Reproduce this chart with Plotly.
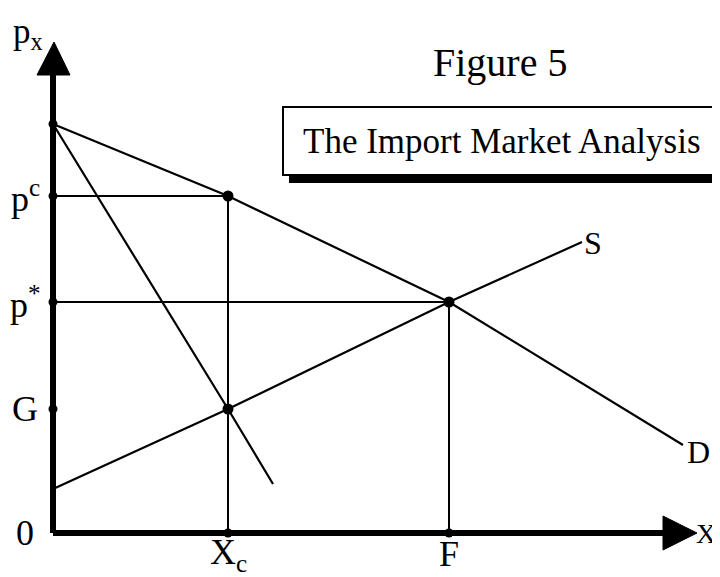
import plotly.graph_objects as go

# ---- data (model units: origin at axis corner) ----
demand_x = [0, 175, 396, 630]
demand_y = [409, 337, 231, 88]
mr_x = [0, 175, 220]
mr_y = [409, 124, 49]
supply_x = [0, 175, 396, 529]
supply_y = [44, 124, 231, 291]

Xc = 175
F = 396
p_c = 337
p_star = 231
G = 124
p_max = 409

axis_tick_labels = ["p<sup>c</sup>", "p<sup>*</sup>", "G", "0"]
x_tick_labels = ["X<sub>c</sub>", "F"]

FONT = "Liberation Serif"
BLACK = "#000000"

fig = go.Figure()

# guide lines
fig.add_trace(go.Scatter(x=[0, Xc, Xc], y=[p_c, p_c, 0], mode="lines",
                         line=dict(color=BLACK, width=2), hoverinfo="skip"))
fig.add_trace(go.Scatter(x=[0, F, F], y=[p_star, p_star, 0], mode="lines",
                         line=dict(color=BLACK, width=2), hoverinfo="skip"))
# curves
fig.add_trace(go.Scatter(x=demand_x, y=demand_y, mode="lines",
                         line=dict(color=BLACK, width=2.2), hoverinfo="skip"))
fig.add_trace(go.Scatter(x=mr_x, y=mr_y, mode="lines",
                         line=dict(color=BLACK, width=2.2), hoverinfo="skip"))
fig.add_trace(go.Scatter(x=supply_x, y=supply_y, mode="lines",
                         line=dict(color=BLACK, width=2.2), hoverinfo="skip"))

# axes as thick lines
fig.add_shape(type="line", x0=0, y0=0, x1=0, y1=465, line=dict(color=BLACK, width=6))
fig.add_shape(type="line", x0=0, y0=0, x1=616, y1=0, line=dict(color=BLACK, width=6))
# arrow heads
fig.add_shape(type="path", path="M -16 458 L 17 458 L 1 491 Z",
              fillcolor=BLACK, line=dict(color=BLACK, width=1))
fig.add_shape(type="path", path="M 610 17 L 610 -17 L 644 0 Z",
              fillcolor=BLACK, line=dict(color=BLACK, width=1))

# title box with shadow
fig.add_shape(type="rect", x0=236, x1=668, y0=350, y1=420,
              fillcolor=BLACK, line=dict(color=BLACK, width=0), layer="above")
fig.add_shape(type="rect", x0=230, x1=662, y0=358, y1=426,
              fillcolor="white", line=dict(color=BLACK, width=2), layer="above")

# dots
fig.add_trace(go.Scatter(x=[Xc, F, Xc], y=[p_c, p_star, G], mode="markers",
                         marker=dict(color=BLACK, size=11), hoverinfo="skip"))
fig.add_trace(go.Scatter(x=[0, 0, 0, 0, Xc, F], y=[p_max, p_c, p_star, G, 0, 0],
                         mode="markers", marker=dict(color=BLACK, size=9), hoverinfo="skip"))

def txt(x, y, s, size=36, xanchor="center", yanchor="middle"):
    fig.add_annotation(x=x, y=y, text=s, showarrow=False,
                       font=dict(family=FONT, size=size, color=BLACK),
                       xanchor=xanchor, yanchor=yanchor)

txt(-25, 500, "p<sub>x</sub>", size=35)
for lab, yv in zip(axis_tick_labels, [p_c, p_star, G, 0]):
    txt(-28, yv, lab)
for lab, xv in zip(x_tick_labels, [Xc, F]):
    txt(xv, -21, lab, size=36)
txt(665, 0, "X", size=28, xanchor="right")
txt(540, 290, "S", size=32)
txt(645, 81, "D", size=32)
txt(447, 471, "Figure 5", size=40)
txt(449, 392, "The Import Market Analysis", size=35)

# page body adds an 8px offset; figure is sized to fill the rest of the window
fig.update_layout(
    width=712, height=569,
    margin=dict(l=0, r=0, t=0, b=0),
    paper_bgcolor="white", plot_bgcolor="white",
    showlegend=False,
    xaxis=dict(range=[-45, 667], visible=False, fixedrange=True),
    yaxis=dict(range=[-44, 525], visible=False, fixedrange=True),
)

fig.write_html("out.html")
